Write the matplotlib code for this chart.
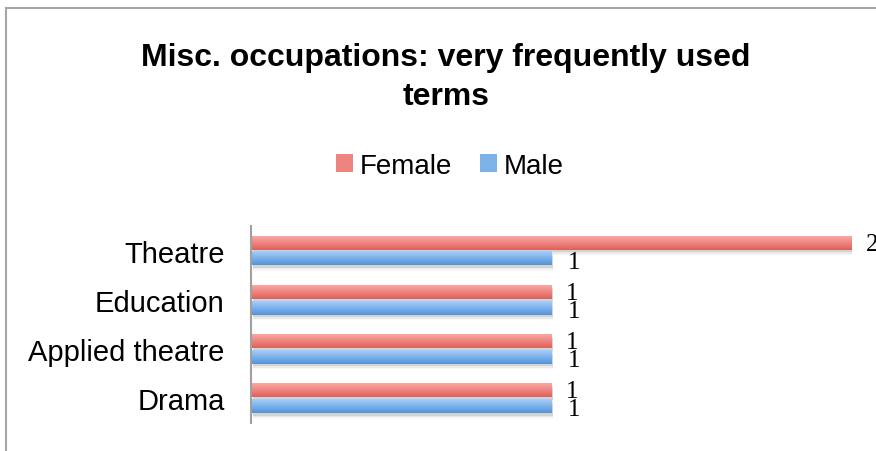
import numpy as np
import matplotlib.pyplot as plt
from matplotlib.patches import Rectangle, Patch

# data
categories = ["Theatre", "Education", "Applied theatre", "Drama"]
female = [2, 1, 1, 1]
male = [1, 1, 1, 1]
series_names = ["Female", "Male"]

W, H = 876, 452
fig = plt.figure(figsize=(W / 100, H / 100), dpi=100)
plt.rcParams['font.family'] = ['Liberation Sans', 'DejaVu Sans']

# outer chart border (only top and left edges are visible)
fig.patches.append(Rectangle((6 / W, -0.1), 1.2, (H - 9) / H + 0.1, transform=fig.transFigure,
                             fill=False, edgecolor='#a6a6a6', linewidth=1.5))

ax = fig.add_axes([251 / W, 28 / H, 601 / W, 197 / H])

y = np.arange(len(categories))
h = 0.28
off = 0.16

grad_f = (np.array([250, 168, 164]) / 255, np.array([224, 96, 90]) / 255)
grad_m = (np.array([166, 205, 250]) / 255, np.array([82, 148, 218]) / 255)


def gradient(c_top, c_bot, n=32):
    t = np.linspace(0, 1, n)[:, None, None]
    return (c_top[None, None, :] * (1 - t) + c_bot[None, None, :] * t)


bars_f = ax.barh(y - off, female, height=h, color=grad_f[1], zorder=3)
bars_m = ax.barh(y + off, male, height=h, color=grad_m[1], zorder=3)

# soft shadows under the bars
for bars in (bars_f, bars_m):
    for b in bars:
        for k, a in ((0.05, 0.18), (0.08, 0.10), (0.11, 0.05)):
            ax.add_patch(Rectangle((b.get_x() + 0.005, b.get_y() + k), b.get_width(), b.get_height(),
                                   color='#707070', alpha=a, linewidth=0, zorder=2))

# gradient fill on each bar
for bars, g in ((bars_f, grad_f), (bars_m, grad_m)):
    img = gradient(*g)
    for b in bars:
        x0, y0 = b.get_x(), b.get_y()
        ax.imshow(img, extent=(x0, x0 + b.get_width(), y0 + b.get_height(), y0),
                  aspect='auto', origin='upper', zorder=4, interpolation='bilinear')

ax.set_xlim(0, 2)
ax.set_ylim(len(categories) - 0.5, -0.5)
ax.set_yticks(y)
ax.set_yticklabels(categories, fontsize=21)
ax.tick_params(axis='y', length=0, pad=19)
ax.set_xticks([])
for s in ('top', 'right', 'bottom'):
    ax.spines[s].set_visible(False)
ax.spines['left'].set_color('#a0a0a0')
ax.spines['left'].set_linewidth(1.5)
ax.spines['left'].set_zorder(6)

# value labels
for yi, v in zip(y, female):
    ax.annotate(str(v), (v, yi - off), xytext=(14, -1), textcoords='offset pixels',
                ha='left', va='center', fontsize=18, family='Liberation Serif',
                annotation_clip=False)
for yi, v in zip(y, male):
    ax.annotate(str(v), (v, yi + off), xytext=(16, -3), textcoords='offset pixels',
                ha='left', va='center', fontsize=18, family='Liberation Serif',
                annotation_clip=False)

fig.text(446 / W, 1 - 77.5 / H, "Misc. occupations: very frequently used\nterms",
         ha='center', va='center', fontsize=23, fontweight='bold', linespacing=1.35)

handles = [Patch(facecolor=(grad_f[0] + grad_f[1]) / 2), Patch(facecolor=(grad_m[0] + grad_m[1]) / 2)]
fig.legend(handles, series_names, loc='center', bbox_to_anchor=(450 / W, 1 - 167 / H),
           ncol=2, frameon=False, fontsize=20, handlelength=0.6, handleheight=0.6,
           handletextpad=0.25, columnspacing=1.0)

fig.savefig("out.png", dpi=100)
